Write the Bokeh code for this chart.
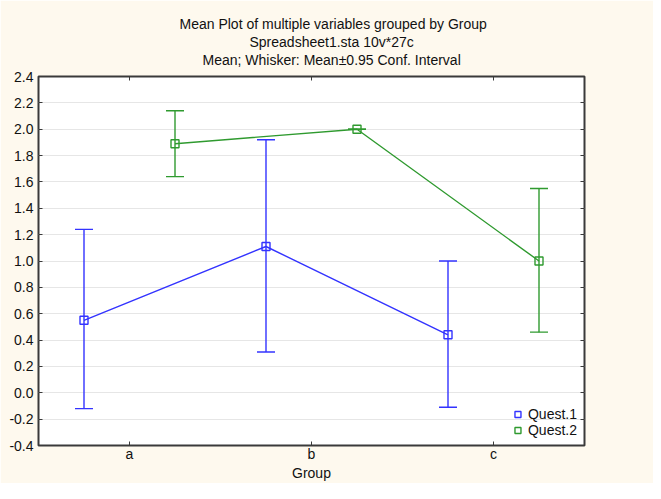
import math
from bokeh.plotting import figure
from bokeh.models import (Range1d, FixedTicker, PrintfTickFormatter, LinearAxis, CategoricalAxis,
                          ColumnDataSource, Whisker, TeeHead, Title, Legend, LegendItem)
from bokeh.transform import dodge
from bokeh.embed import file_html
from bokeh.resources import INLINE

# ---- data ----
groups = ["a", "b", "c"]
q1_mean = [0.55, 1.11, 0.44]
q1_lower = [-0.12, 0.31, -0.11]
q1_upper = [1.24, 1.92, 1.00]
q2_mean = [1.89, 2.00, 1.00]
q2_lower = [1.64, 2.00, 0.46]
q2_upper = [2.14, 2.00, 1.55]
series_names = ["Quest.1", "Quest.2"]
y_ticks = [-0.4, -0.2, 0.0, 0.2, 0.4, 0.6, 0.8, 1.0, 1.2, 1.4, 1.6, 1.8, 2.0, 2.2, 2.4]
title_lines = ["Mean Plot of multiple variables grouped by  Group",
               "Spreadsheet1.sta 10v*27c",
               "Mean; Whisker: Mean\u00b10.95 Conf. Interval"]
title_offsets = [141, 211, 164]   # left offsets so each line is centred like the original
x_title = "Group"

FONT = "Liberation Sans"
FS = "14px"
BLUE = "#3333ff"
GREEN = "#2f9a2f"
CREAM = "#fef9ee"
DARK = "#3a3a3a"
TXT = "#111111"

p = figure(x_range=groups, y_range=Range1d(-0.4, 2.4), width=653, height=483,
           output_backend="svg", toolbar_location=None,
           min_border_left=38, min_border_right=69, min_border_top=76, min_border_bottom=38)
p.border_fill_color = CREAM
p.background_fill_color = "white"
p.outline_line_color = DARK
p.outline_line_width = 2

# axes
p.xaxis.axis_line_color = None
p.xaxis.major_tick_in = 4
p.xaxis.major_tick_out = 0
p.xaxis.major_tick_line_color = DARK
p.xaxis.major_label_standoff = 0
p.xaxis.major_label_text_font = FONT
p.xaxis.major_label_text_font_size = FS
p.xaxis.major_label_text_color = TXT
p.xaxis.axis_label = x_title
p.xaxis.axis_label_standoff = 0
p.xaxis.axis_label_text_font = FONT
p.xaxis.axis_label_text_font_size = FS
p.xaxis.axis_label_text_font_style = "normal"
p.xaxis.axis_label_text_color = TXT

p.yaxis.ticker = FixedTicker(ticks=y_ticks)
p.yaxis.formatter = PrintfTickFormatter(format="%.1f")
p.yaxis.axis_line_color = None
p.yaxis.major_tick_in = 4
p.yaxis.major_tick_out = 0
p.yaxis.minor_tick_line_color = None
p.yaxis.major_tick_line_color = DARK
p.yaxis.major_label_standoff = 5
p.yaxis.major_label_text_font = FONT
p.yaxis.major_label_text_font_size = FS
p.yaxis.major_label_text_color = TXT

p.xgrid.grid_line_color = None
p.ygrid.ticker = FixedTicker(ticks=y_ticks)
p.ygrid.grid_line_color = "#e6e6e6"

ra = LinearAxis(ticker=FixedTicker(ticks=y_ticks), major_label_text_color=None,
                major_label_text_font_size="1px",
                major_tick_in=4, major_tick_out=0, axis_line_color=None,
                major_tick_line_color=DARK, minor_tick_line_color=None, major_label_standoff=0)
p.add_layout(ra, "right")
ta = CategoricalAxis(major_label_text_color=None, major_label_text_font_size="1px",
                     major_tick_in=4, major_tick_out=0,
                     axis_line_color=None, major_tick_line_color=DARK, major_label_standoff=0)
p.add_layout(ta, "above")

# small spacer between the frame and the title block
p.add_layout(Title(text="\u00a0", text_font=FONT, text_font_size="5px", standoff=1), "above")

# titles: last added sits highest
for txt, off in reversed(list(zip(title_lines, title_offsets))):
    p.add_layout(Title(text=txt, align="left", offset=off, text_font=FONT, text_font_size=FS,
                       text_font_style="normal", text_color=TXT, standoff=0), "above")

# series
series = [
    (series_names[0], q1_mean, q1_lower, q1_upper, -0.25, BLUE),
    (series_names[1], q2_mean, q2_lower, q2_upper, 0.25, GREEN),
]
items = []
for name, m, lo, up, off, col in series:
    src = ColumnDataSource(dict(g=groups, mean=m, lower=lo, upper=up))
    xs = dodge("g", off, range=p.x_range)
    w = Whisker(base=xs, upper="upper", lower="lower", source=src,
                line_color=col, line_width=1.4,
                upper_head=TeeHead(size=18, line_color=col, line_width=1.4),
                lower_head=TeeHead(size=18, line_color=col, line_width=1.4))
    p.add_layout(w)
    p.line(x=xs, y="mean", source=src, line_color=col, line_width=1.4)
    sq = p.scatter(x=xs, y="mean", source=src, marker="square", size=8,
                   fill_color=None, line_color=col, line_width=1.4)
    # legend-only glyph: vertical bar through the square
    empty = ColumnDataSource(dict(x=[], y=[]))
    vb = p.scatter(x="x", y="y", source=empty, marker="dash", angle=math.pi / 2, size=8,
                   line_color=col, line_width=1.4)
    items.append(LegendItem(label=name, renderers=[vb, sq]))

legend = Legend(items=items, location="bottom_right", padding=0, margin=7, spacing=0,
                label_height=16, glyph_height=16, glyph_width=15, label_standoff=3,
                label_text_font=FONT, label_text_font_size=FS, label_text_color=TXT,
                background_fill_alpha=0, border_line_color=None)
p.add_layout(legend, "center")

open("out.html", "w").write(file_html(p, INLINE))
